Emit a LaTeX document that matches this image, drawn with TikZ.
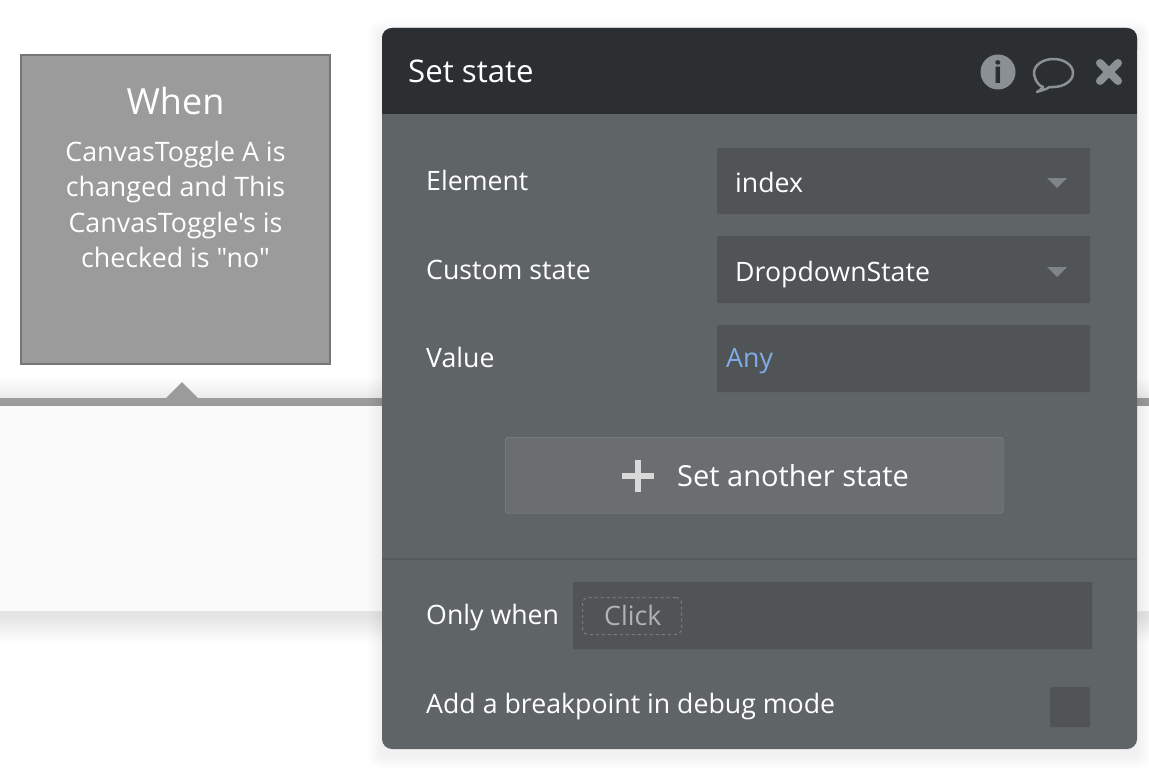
\documentclass[tikz,border=0pt]{standalone}
\usepackage{fontspec}
\setmainfont{Open Sans}[Ligatures=TeXOff]
\usetikzlibrary{positioning}
\definecolor{paneldark}{HTML}{2B2F31}
\definecolor{panelgray}{HTML}{5F6466}
\definecolor{fieldgray}{HTML}{505456}
\definecolor{whengray}{HTML}{9B9B9B}
\definecolor{whenedge}{HTML}{767676}
\definecolor{icongray}{HTML}{8A9094}
\definecolor{anyblue}{HTML}{7FACE8}
\definecolor{btngray}{HTML}{6A6E70}
\definecolor{stripgray}{HTML}{FAFAFA}
\newcommand\paneltextsize{\fontsize{26.7}{30}\selectfont}
\newcommand\whentextsize{\fontsize{26.8}{35.4}\selectfont}
\newcommand\softshadow[6]{
  \foreach \r in {1,...,#5} {
    \fill[black, opacity=#6, rounded corners=\r pt] (#1 - \r, #2 - \r + 6) rectangle (#3 + \r, #4 + \r + 6) ;
  }
}
\tikzset{
  fieldbox/.style={fill=fieldgray, rounded corners=1pt, minimum height=66pt, inner sep=0pt},
  paneltext/.style={text=white, anchor=base west, inner sep=0pt, font=\paneltextsize},
  fieldtext/.style={text=white, anchor=base west, inner sep=0pt, font=\paneltextsize},
  caret/.style={fill=icongray!80!fieldgray},
}
\begin{document}
\begin{tikzpicture}[x=1pt, y=-1pt]
  \useasboundingbox (0, 0) rectangle (1149, 776) ;
  \fill[white] (0, 0) rectangle (1149, 776) ;
  % white strip with the gray rule on top
  \softshadow{0}{398}{1149}{611}{26}{0.0035}
  \fill[stripgray] (0, 405) rectangle (1149, 611) ;
  \fill[whengray] (0, 398) rectangle (1149, 406) ;
  \coordinate (tipleft) at (166, 398) ;
  \coordinate (tipright) at (198, 398) ;
  \coordinate (tiptop) at (182, 382) ;
  \fill[whengray] (tipleft) -- (tiptop) -- (tipright) -- cycle ;
  % when box
  \node[draw=whenedge, fill=whengray, line width=2pt, minimum width=309pt, minimum height=309pt, inner sep=0pt] (whenbox) at (175.5, 209.5) {} ;
  \node[text=white, inner sep=0pt, anchor=base, font=\fontsize{36}{40}\selectfont] (whentitle) at (175.5, 114) {When} ;
  \node[text=white, inner sep=0pt, anchor=north, align=center, font=\whentextsize] (whenbody) at (175.5, 141) {CanvasToggle A is\\changed and This\\CanvasToggle's is\\checked is "no"} ;
  % panel
  \softshadow{382}{28}{1137}{749}{14}{0.004}
  \fill[panelgray, rounded corners=10pt] (382, 28) rectangle (1137, 749) ;
  \fill[paneldark, rounded corners=10pt] (382, 28) rectangle (1137, 60) ;
  \fill[paneldark] (382, 45) rectangle (1137, 114) ;
  \node[paneltext, font=\fontsize{31.2}{34}\selectfont] (settitle) at (408, 83) {Set state} ;
  % header icons
  \node[circle, fill=icongray, minimum size=35pt, inner sep=0pt] (infoicon) at (998, 72) {} ;
  \node[text=paneldark, inner sep=0pt, font=\bfseries\fontsize{30}{30}\selectfont] (infoi) at (998, 72) {i} ;
  \draw[icongray, line width=2.5pt, line join=round] (1043, 87) .. controls (1035, 84) and (1034, 74) .. (1034, 73) .. controls (1034, 65) and (1043, 59) .. (1053.5, 59) .. controls (1064, 59) and (1073, 65) .. (1073, 73) .. controls (1073, 81) and (1064, 87) .. (1053, 87) .. controls (1050, 87) and (1048, 87) .. (1046, 89) -- (1037, 92) .. controls (1040, 90) and (1042, 89) .. (1043, 87) -- cycle ;
  \draw[icongray, line width=8pt, line cap=round] (1100, 63) -- (1118, 81) (1118, 63) -- (1100, 81) ;
  % fields
  \node[fieldtext] (elementlabel) at (426, 190) {Element} ;
  \node[fieldbox, minimum width=373pt, anchor=north west] (elementbox) at (717, 148) {} ;
  \node[fieldtext] (elementvalue) at (735, 192) {index} ;
  \fill[caret] (1047, 178) -- (1067, 178) -- (1057, 188) -- cycle ;
  \node[fieldtext] (statelabel) at (426, 279) {Custom state} ;
  \node[fieldbox, minimum width=373pt, minimum height=67pt, anchor=north west] (statebox) at (717, 236) {} ;
  \node[fieldtext] (statevalue) at (735, 281) {DropdownState} ;
  \fill[caret] (1047, 267) -- (1067, 267) -- (1057, 277) -- cycle ;
  \node[fieldtext] (valuelabel) at (426, 367) {Value} ;
  \node[fieldbox, minimum width=373pt, minimum height=67pt, anchor=north west] (valuebox) at (717, 325) {} ;
  \node[fieldtext, text=anyblue] (anyvalue) at (726, 367) {Any} ;
  % button
  \node[fill=btngray, draw=white!25!panelgray, rounded corners=3pt, minimum width=498pt, minimum height=76pt, inner sep=0pt, anchor=north west] (anotherbtn) at (505, 437) {} ;
  \node[text=white, anchor=base west, inner sep=0pt, font=\fontsize{29}{32}\selectfont] (anothertext) at (677, 486.5) {Set another state} ;
  \draw[white!85!black, line width=5.5pt] (622, 476) -- (654, 476) (638, 460) -- (638, 492) ;
  % divider
  \draw[fieldgray!60!panelgray, line width=1.5pt] (382, 559) -- (1137, 559) ;
  % only when
  \node[fieldtext] (onlywhenlabel) at (426, 624.5) {Only when} ;
  \node[fieldbox, minimum width=519pt, minimum height=67pt, anchor=north west] (onlywhenbox) at (573, 582) {} ;
  \node[draw=panelgray!85!white, dashed, rounded corners=6pt, line width=1pt, minimum width=99pt, minimum height=37pt, inner sep=0pt, anchor=north west] (clickchip) at (582, 597) {} ;
  \node[fieldtext, text=white!55!fieldgray] (clicktext) at (604, 625) {Click} ;
  % breakpoint
  \node[fieldtext] (breaklabel) at (426, 713) {Add a breakpoint in debug mode} ;
  \node[fill=fieldgray, rounded corners=1pt, minimum size=40pt, inner sep=0pt, anchor=north west] (breakcheck) at (1050, 687) {} ;
\end{tikzpicture}
\end{document}
